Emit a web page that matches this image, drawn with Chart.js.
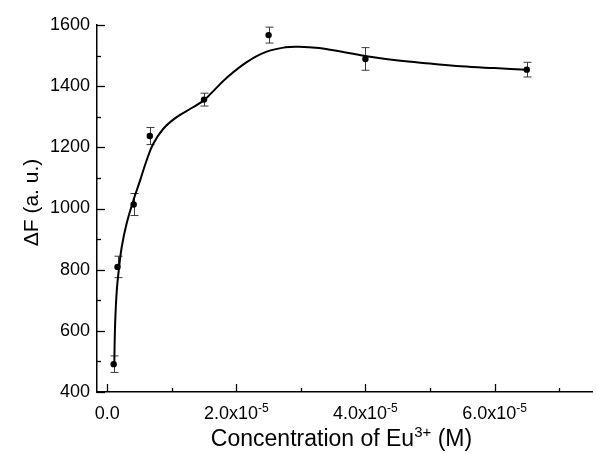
<!DOCTYPE html>
<html>
<head>
<meta charset="utf-8">
<script src="https://cdn.jsdelivr.net/npm/chart.js@4/dist/chart.umd.min.js"></script>
<style>
  html, body { margin: 0; padding: 0; background: #fff; }
  #c { display: block; }
</style>
</head>
<body>
<canvas id="c" width="596" height="454"></canvas>
<script>
// Measured fluorescence change vs. Eu3+ concentration (mol/L)
const concentration = [1.0e-6, 1.6e-6, 4.1e-6, 6.6e-6, 1.5e-5, 2.5e-5, 4.0e-5, 6.5e-5];
const deltaF        = [491, 809, 1013, 1237, 1356, 1567, 1489, 1454];
const deltaFError   = [27, 35, 36, 28, 21, 26, 37, 24];

// Smooth guide curve through the data
const curveConcentration = [1.1e-6, 1.23e-6, 1.49e-6, 1.85e-6, 2.25e-6, 3.0e-6, 4.05e-6, 5.1e-6,
  6.1e-6, 7.1e-6, 8.66e-6, 1.07e-5, 1.33e-5, 1.51e-5, 1.68e-5, 1.84e-5, 2.15e-5,
  2.46e-5, 2.76e-5, 2.97e-5, 3.28e-5, 3.48e-5, 4.02e-5, 4.51e-5, 5.00e-5, 5.48e-5, 6.00e-5, 6.50e-5];
const curveDeltaF = [493, 624, 733, 809, 874, 950, 1026, 1092,
  1157, 1210, 1260, 1298, 1331, 1356, 1392, 1425, 1477,
  1512, 1527, 1529, 1525, 1518, 1498, 1484, 1474, 1465, 1459, 1454];

// Axis ticks
const xMajorTicks = [0, 2e-5, 4e-5, 6e-5];
const xMinorTicks = [1e-5, 3e-5, 5e-5, 7e-5];
const xTickMantissa = ['0.0', '2.0', '4.0', '6.0'];
const xTickExponent = ['', '-5', '-5', '-5'];
const yMajorTicks = [400, 600, 800, 1000, 1200, 1400, 1600];
const yMinorTicks = [500, 700, 900, 1100, 1300, 1500];

const FONT = '"Liberation Sans", Arial, Helvetica, sans-serif';

// Inward tick marks, superscripted x labels and axis titles
const axisDecor = {
  id: 'axisDecor',
  afterDraw(chart) {
    const { ctx, chartArea: a, scales: { x, y } } = chart;
    ctx.save();
    ctx.strokeStyle = '#000';
    ctx.lineWidth = 1.3;
    const tick = (x1, y1, x2, y2) => { ctx.beginPath(); ctx.moveTo(x1, y1); ctx.lineTo(x2, y2); ctx.stroke(); };
    yMajorTicks.forEach(v => { const p = Math.round(y.getPixelForValue(v)) + 0.5; tick(a.left, p, a.left + 8, p); });
    yMinorTicks.forEach(v => { const p = Math.round(y.getPixelForValue(v)) + 0.5; tick(a.left, p, a.left + 4, p); });
    xMajorTicks.forEach(v => { const p = Math.round(x.getPixelForValue(v)) + 0.5; tick(p, a.bottom, p, a.bottom - 8); });
    xMinorTicks.forEach(v => { const p = Math.round(x.getPixelForValue(v)) + 0.5; tick(p, a.bottom, p, a.bottom - 4); });

    // x tick labels: mantissa x10 with superscript exponent
    ctx.fillStyle = '#000';
    ctx.textBaseline = 'alphabetic';
    ctx.textAlign = 'left';
    xMajorTicks.forEach((v, i) => {
      const main = xTickExponent[i] ? xTickMantissa[i] + 'x10' : xTickMantissa[i];
      ctx.font = '18px ' + FONT;
      const wMain = ctx.measureText(main).width;
      ctx.font = '12px ' + FONT;
      const wSup = xTickExponent[i] ? ctx.measureText(xTickExponent[i]).width : 0;
      const cx = x.getPixelForValue(v);
      const x0 = cx - (wMain + wSup) / 2;
      const base = a.bottom + 27;
      ctx.font = '18px ' + FONT;
      ctx.fillText(main, x0, base);
      if (wSup) {
        ctx.font = '12px ' + FONT;
        ctx.fillText(xTickExponent[i], x0 + wMain, base - 7);
      }
    });

    // x axis title
    const p1 = 'Concentration of Eu', sup = '3+', p2 = ' (M)';
    ctx.font = '23px ' + FONT;
    const w1 = ctx.measureText(p1).width, w3 = ctx.measureText(p2).width;
    ctx.font = '15px ' + FONT;
    const w2 = ctx.measureText(sup).width;
    const tx = (a.left + a.right) / 2 - 3 - (w1 + w2 + w3) / 2;
    const tb = a.bottom + 54;
    ctx.font = '23px ' + FONT;
    ctx.fillText(p1, tx, tb);
    ctx.fillText(p2, tx + w1 + w2, tb);
    ctx.font = '15px ' + FONT;
    ctx.fillText(sup, tx + w1, tb - 9);

    // y axis title
    ctx.save();
    ctx.translate(32, (a.top + a.bottom) / 2 - 6);
    ctx.rotate(-Math.PI / 2);
    ctx.font = '21px ' + FONT;
    ctx.textAlign = 'center';
    ctx.textBaseline = 'middle';
    ctx.fillText('\u0394F (a. u.)', 0, 0);
    ctx.restore();
    ctx.restore();
  }
};

// Vertical error bars with caps, drawn beneath the curve and markers
const errorBars = {
  id: 'errorBars',
  beforeDatasetsDraw(chart) {
    const { ctx, scales: { x, y } } = chart;
    ctx.save();
    ctx.strokeStyle = '#3a3a3a';
    ctx.lineWidth = 1;
    concentration.forEach((c, i) => {
      const px = Math.round(x.getPixelForValue(c)) + 0.5;
      const top = y.getPixelForValue(deltaF[i] + deltaFError[i]);
      const bot = y.getPixelForValue(deltaF[i] - deltaFError[i]);
      ctx.beginPath();
      ctx.moveTo(px, top); ctx.lineTo(px, bot);
      ctx.moveTo(px - 4, top); ctx.lineTo(px + 4, top);
      ctx.moveTo(px - 4, bot); ctx.lineTo(px + 4, bot);
      ctx.stroke();
    });
    ctx.restore();
  }
};

new Chart(document.getElementById('c'), {
  type: 'scatter',
  data: {
    datasets: [
      {
        type: 'line',
        data: curveConcentration.map((c, i) => ({ x: c, y: curveDeltaF[i] })),
        borderColor: '#000',
        borderWidth: 2,
        pointRadius: 0,
        fill: false,
        tension: 0.4
      },
      {
        type: 'scatter',
        data: concentration.map((c, i) => ({ x: c, y: deltaF[i] })),
        backgroundColor: '#000',
        borderColor: '#000',
        pointRadius: 3.2,
        pointBorderWidth: 0
      }
    ]
  },
  options: {
    responsive: false,
    devicePixelRatio: 1,
    animation: false,
    layout: { padding: { top: 25, right: 0, bottom: 0, left: 0 } },
    plugins: { legend: { display: false }, tooltip: { enabled: false } },
    scales: {
      x: {
        type: 'linear',
        min: -1.58e-6,
        max: 7.51e-5,
        grid: { display: false, drawTicks: false },
        border: { display: true, color: '#000', width: 1.5 },
        ticks: { display: false },
        afterFit(s) { s.height = 62; }
      },
      y: {
        min: 400,
        max: 1600,
        grid: { display: false, drawTicks: false },
        border: { display: true, color: '#000', width: 1.5 },
        ticks: {
          stepSize: 200,
          padding: 7,
          color: '#000',
          font: { family: FONT, size: 18 },
          callback: v => String(v)
        },
        afterFit(s) { s.width = 97; }
      }
    }
  },
  plugins: [errorBars, axisDecor]
});
</script>
</body>
</html>
